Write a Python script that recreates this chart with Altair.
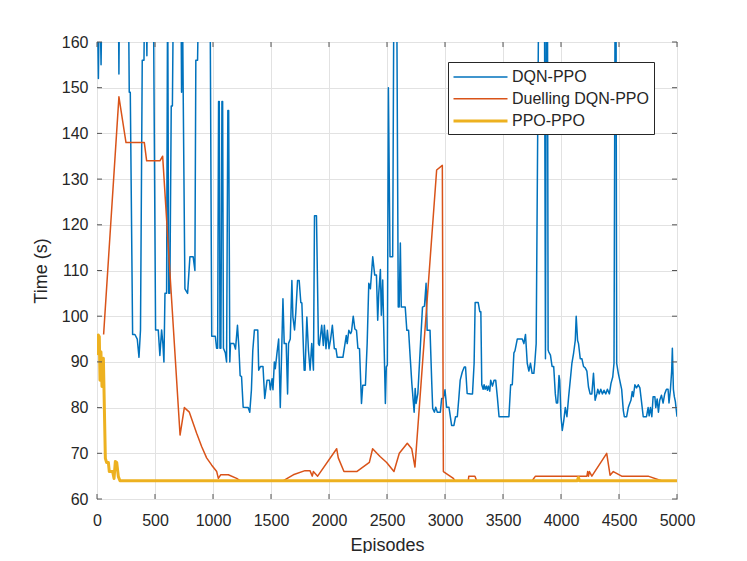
import altair as alt
import pandas as pd

# ---------------- data ----------------
series_names = ["DQN-PPO", "Duelling DQN-PPO", "PPO-PPO"]
series_colors = ["#0072BD", "#D95319", "#EDB120"]
series_widths = [1.5, 1.5, 3.0]

x_ticks = [0, 500, 1000, 1500, 2000, 2500, 3000, 3500, 4000, 4500, 5000]
y_ticks = [60, 70, 80, 90, 100, 110, 120, 130, 140, 150, 160]

# values above 160 run off the top of the axes (clipped)
dqn_ep = [0, 12, 22, 35, 45, 183, 189, 195, 270, 278, 287, 307, 327, 347, 362, 375, 390, 405,
          412, 422, 430, 437, 485, 505, 528, 542, 557, 568, 577, 586, 600, 609, 618, 628, 640,
          650, 660, 723, 729, 735, 743, 758, 781, 801, 829, 844, 852, 867, 878, 974,
          989, 1020, 1031, 1040, 1048, 1054, 1060, 1068, 1077, 1083, 1090, 1106, 1117, 1128,
          1135, 1145, 1151, 1180, 1194,
          1211, 1223, 1234, 1246, 1260, 1303, 1317, 1331, 1343, 1357, 1386, 1394, 1409, 1431,
          1446, 1466, 1486, 1494, 1509, 1517, 1529, 1537, 1551, 1566, 1580, 1603, 1614, 1631,
          1643, 1651, 1666, 1680, 1689, 1703, 1714, 1729, 1743, 1757, 1766, 1786, 1794, 1809,
          1823, 1837, 1851, 1866, 1875, 1892, 1909, 1917, 1937, 1951, 1960, 1974, 1986, 2000,
          2014, 2029, 2046, 2060, 2071, 2094,
          2120, 2149, 2157, 2171, 2186, 2194, 2209, 2223, 2237, 2249, 2263, 2280, 2291, 2314,
          2329, 2343, 2357, 2377, 2394, 2409, 2420, 2429, 2443, 2451, 2463, 2471, 2486, 2494,
          2503, 2512, 2526, 2549, 2560, 2583, 2597, 2605, 2615, 2623, 2657, 2671, 2686, 2700,
          2714, 2734, 2743, 2751, 2766, 2786, 2806, 2823, 2837, 2846, 2871, 2886, 2894, 2909,
          2920, 2934, 2960, 2971, 2986, 3000, 3014, 3034, 3057, 3077, 3091, 3106, 3120, 3131,
          3149, 3166, 3177, 3191,
          3223, 3237, 3251, 3260, 3286, 3300, 3309, 3317, 3329, 3337, 3346, 3357, 3366, 3374,
          3386, 3394, 3409, 3423, 3437, 3451, 3466, 3480, 3551, 3566, 3580, 3594, 3603, 3623,
          3666, 3680, 3694, 3709, 3723, 3737, 3751, 3766, 3774, 3786, 3809, 3857, 3866, 3874,
          3883, 3889, 3894, 3909, 3923, 3937, 3951, 3960, 3971, 3983, 3989, 4000, 4011, 4023,
          4037, 4051, 4066, 4080, 4094, 4109, 4123, 4131, 4143, 4151, 4166, 4180, 4194, 4209,
          4223, 4237, 4251, 4266, 4280, 4294, 4309, 4317, 4329, 4343, 4357, 4371, 4386, 4400,
          4417, 4431, 4446, 4457, 4467, 4474, 4480, 4494, 4509, 4523, 4537, 4546, 4566, 4580,
          4589, 4603, 4614, 4623, 4637, 4651, 4666, 4680, 4694, 4709, 4737, 4751, 4760, 4771,
          4783, 4794, 4809, 4817, 4829, 4840, 4851, 4866, 4880, 4894, 4909, 4923, 4931, 4943,
          4954, 4960, 4969, 4977, 4986, 5000]
dqn_val = [175, 152, 175, 155, 175, 175, 153, 175, 175, 149, 149, 96, 96, 95, 91, 97, 156, 156,
           175, 175, 157, 175, 175, 97, 97, 91.4, 97, 94, 90, 105, 105, 175, 105, 105, 146,
           146, 175, 175, 149, 175, 149, 106, 105, 113, 113, 110, 156, 156, 175, 175,
           95.6, 95.6, 93, 93, 147, 147, 93, 93, 147, 147, 93, 92, 90, 145,
           145, 90, 94, 94, 92.8,
           98, 93.2, 87, 86.8, 80.1, 80, 79, 83.8, 92.5, 97, 97, 88.2, 89, 89,
           82, 86, 86, 83.9, 86.3, 83.9, 90, 88.5, 91.8, 95, 80, 103.8, 94, 94,
           83, 94, 95, 107.8, 99.8, 97, 100.9, 107.8, 107.8, 103, 102.9, 88.2, 88.2, 99.8,
           92.5, 88.2, 94, 88.2, 122, 122, 94, 93.6, 98, 93.6, 98, 92.9, 96.9, 92.9,
           95, 98, 92.9, 92.9, 91, 91,
           91, 95.8, 94, 96.9, 96.2, 96.6, 100, 97.2, 96.9, 93, 92.9, 80.9, 84.9, 84.9,
           94, 107.2, 106, 113, 109, 109, 99.1, 105, 110.2, 100.2, 107.9, 98.4, 80.9, 88.9,
           89.3, 150, 113, 113, 175, 175, 102, 102, 116, 102, 102, 96.9, 96.9, 91,
           85.3, 79, 84.2, 80.9, 83.1, 92.6, 102, 102.2, 107.2, 96.9, 96.9, 85.3, 79.8, 79,
           80.1, 79, 79, 82, 82, 83.9, 80.1, 80.1, 76.1, 76.1, 78, 78, 82.3, 86,
           87.8, 88.9, 88.9, 83.1,
           83, 83, 89.7, 103, 103, 101, 101, 85, 84, 85, 84, 84.7, 83.8, 84.7,
           83.6, 86, 84.7, 86, 86, 82.4, 78, 78, 78, 85, 85, 92, 92.4, 95,
           95, 94, 96, 89.7, 88, 89.7, 87.5, 87.5, 89.7, 94, 175, 175, 90.7, 175,
           175, 92.6, 92.2, 91.5, 89, 89, 83, 81, 81, 87, 86, 78, 75, 77,
           80, 78, 82.4, 86, 89.7, 92, 94.7, 100, 94.7, 94, 90.7, 90.7, 89, 88.7,
           88, 84.5, 83, 83, 87.5, 81.6, 83, 84, 83, 84, 83, 83.8, 83, 84,
           83, 85.3, 86.7, 89.7, 175, 175, 89.7, 87.5, 85.7, 84, 79.4, 78, 78, 80,
           80.7, 81.6, 83.5, 82.4, 85, 84.3, 85, 84.3, 81.3, 78, 78, 80, 78.2, 80,
           78, 82.4, 82.4, 80, 81.9, 79, 81.6, 82.7, 81, 83, 84, 84, 81, 83.8,
           88, 93, 84, 82.4, 81.3, 78]

duel_ep = [57, 189, 250, 408, 428, 542, 566, 716, 753, 796, 859, 902, 945, 989, 1032, 1046,
           1066, 1132, 1204, 1233, 1607, 1692, 1793, 1836, 1856, 1865, 1902, 2066, 2080, 2129,
           2239, 2348, 2376, 2440, 2497, 2560, 2606, 2675, 2713, 2741, 2928, 2977, 2986, 3072,
           3086, 3201, 3205, 3258, 3273, 3751, 3780, 4223, 4230, 4237, 4245, 4266, 4394, 4423,
           4451, 4523, 4751, 4866, 5000]
duel_val = [96, 148, 138, 138, 134, 134, 135, 74, 80, 79, 74.4, 71.5, 69, 67.4, 66, 64.5,
            65.3, 65.3, 64.5, 64, 64, 65.3, 66.2, 66.2, 65, 66, 65, 71, 69, 66,
            66, 68, 71, 69.3, 68, 66, 70, 72.2, 71, 67, 132, 133, 66, 64.5,
            64, 64, 65, 65, 64, 64, 65, 65, 66, 65, 66, 65, 70, 65.2,
            66, 65, 65, 64, 64]

ppo_ep = [0, 11, 20, 26, 34, 43, 55, 72, 83, 98, 106, 135, 147, 158, 170, 184, 198,
          4140, 4150, 4160, 5000]
ppo_val = [91.5, 95.9, 95.5, 86, 92.2, 84.6, 90.8, 68.9, 68, 68, 66, 66, 64.5, 68.2, 68, 64.9, 64,
           64, 64.7, 64, 64]

# ---------------- tables ----------------
rows = []
for name, eps, vals in zip(series_names, [dqn_ep, duel_ep, ppo_ep], [dqn_val, duel_val, ppo_val]):
    for e, v in zip(eps, vals):
        rows.append({"Episode": e, "Time": v, "Method": name})
df = pd.DataFrame(rows)
xt = pd.DataFrame({"xt": x_ticks})
yt = pd.DataFrame({"yt": y_ticks})

FONT = "Liberation Sans"
TXT = "#262626"
W, H = 580, 457

legend = alt.Legend(
    title=None, orient="none", legendX=351, legendY=20,
    symbolType="M-3,0H3", symbolSize=324, symbolOffset=17, labelOffset=21,
    labelFont=FONT, labelFontSize=16, labelColor=TXT, labelLimit=400,
    strokeColor=TXT, fillColor="white", padding=5, rowPadding=3.7,
)

xscale = alt.Scale(domain=[0, 5000], nice=False, zero=False)
yscale = alt.Scale(domain=[60, 160], nice=False, zero=False)
x_axis = alt.Axis(values=x_ticks, title="Episodes", labelPadding=13, titlePadding=8, format="d")
y_axis = alt.Axis(values=y_ticks, title="Time (s)", labelPadding=9, titlePadding=11, format="d")

base = alt.Chart(df).mark_line(clip=True, strokeJoin="round").encode(
    x=alt.X("Episode:Q", scale=xscale, axis=x_axis, title="Episodes"),
    y=alt.Y("Time:Q", scale=yscale, axis=y_axis, title="Time (s)"),
    color=alt.Color("Method:N", scale=alt.Scale(domain=series_names, range=series_colors),
                    legend=legend),
    strokeWidth=alt.StrokeWidth("Method:N",
                                scale=alt.Scale(type="ordinal", domain=series_names,
                                                range=series_widths),
                                legend=legend),
)

line_layers = [base.transform_filter(alt.datum.Method == n) for n in series_names]

tick_color = "#555555"
xtick_top = alt.Chart(xt).mark_rule(color=tick_color, strokeWidth=1).encode(
    x=alt.X("xt:Q", scale=xscale, axis=x_axis, title="Episodes"), y=alt.value(0), y2=alt.value(5))
xtick_bot = alt.Chart(xt).mark_rule(color=tick_color, strokeWidth=1).encode(
    x=alt.X("xt:Q", scale=xscale, axis=x_axis, title="Episodes"), y=alt.value(H), y2=alt.value(H - 5))
ytick_left = alt.Chart(yt).mark_rule(color=tick_color, strokeWidth=1).encode(
    y=alt.Y("yt:Q", scale=yscale, axis=y_axis, title="Time (s)"), x=alt.value(0), x2=alt.value(5))
ytick_right = alt.Chart(yt).mark_rule(color=tick_color, strokeWidth=1).encode(
    y=alt.Y("yt:Q", scale=yscale, axis=y_axis, title="Time (s)"), x=alt.value(W), x2=alt.value(W - 5))

chart = alt.layer(
    *line_layers, xtick_top, xtick_bot, ytick_left, ytick_right
).properties(
    width=W, height=H,
    autosize=alt.AutoSizeParams(type="none"),
    padding={"left": 89, "top": 34, "right": 60, "bottom": 54},
    background="white",
).configure_view(
    stroke=tick_color, strokeWidth=1
).configure_axis(
    labelFont=FONT, labelFontSize=16, labelColor=TXT,
    titleFont=FONT, titleFontSize=18, titleFontWeight="normal", titleColor=TXT,
    grid=True, gridColor="#e2e2e2", gridWidth=1,
    domain=False, ticks=False, labelFlush=False, labelOverlap=False,
)

chart.save("out.html", embed_options={"renderer": "svg", "actions": False})
